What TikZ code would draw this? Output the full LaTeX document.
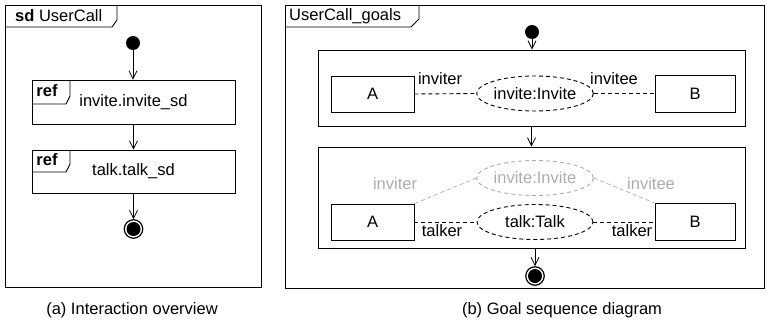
\documentclass[tikz,border=0pt]{standalone}
\usepackage{fontspec}
\setmainfont{Liberation Sans}
\usetikzlibrary{shapes.geometric,arrows.meta}
\begin{document}
\begin{tikzpicture}[x=1pt,y=-1pt,
  every node/.style={font=\fontsize{16.5}{18}\selectfont, inner sep=0pt},
  frame/.style={draw, line width=0.9pt},
  box/.style={draw, line width=0.9pt, rectangle, inner sep=0pt},
  arr/.style={line width=0.8pt, -{Straight Barb[length=8pt,width=8pt]}},
  dsh/.style={line width=0.9pt, dash pattern=on 4pt off 3pt},
  ell/.style={draw, ellipse, dsh, minimum width=116pt, minimum height=35pt, inner sep=0pt},
  grey/.style={color=gray!65},
  startdot/.style={circle, fill, minimum size=14pt, inner sep=0pt},
  endring/.style={circle, draw, line width=1.2pt, minimum size=18.5pt, inner sep=0pt},
  enddot/.style={circle, fill, minimum size=14pt, inner sep=0pt}
]
\useasboundingbox (0,0) rectangle (767,322);

% ---------------- (a) Interaction overview ----------------
\draw[frame] (5,5) rectangle (261,287);
\draw[frame] (5,27) -- (112,27) -- (117,20) -- (117,5);
\node[anchor=west] (tabA) at (15,16) {\textbf{sd} UserCall};

\node[startdot] (i1) at (133,43) {};
\node[box, minimum width=203pt, minimum height=44pt] (r1) at (133.5,102) {invite.invite\_sd};
\draw[frame] (32,104) -- (66,104) -- (70,96) -- (70,80);
\node (ref1) at (47,91) {\textbf{ref}};

\node[box, minimum width=203pt, minimum height=43pt] (r2) at (133.5,171.5) {talk.talk\_sd};
\draw[frame] (32,172) -- (66,172) -- (70,164) -- (70,150);
\node (ref2) at (47,160) {\textbf{ref}};

\node[endring] (f1) at (133.5,229) {};
\node[enddot] (f1d) at (f1.center) {};

\draw[arr] (i1) -- (i1 |- r1.north);
\draw[arr] (r1.south) -- (r2.north);
\draw[arr] (r2.south) -- (f1.north);

\node (capA) at (132,310) {(a) Interaction overview};

% ---------------- (b) Goal sequence diagram ----------------
\draw[frame] (285,5) rectangle (764,288);
\draw[frame] (285,27) -- (411,27) -- (419,19) -- (419,5);
\node[anchor=west] (tabB) at (289,16) {UserCall\_goals};

\node[startdot] (i2) at (532,32) {};
\node[box, minimum width=427pt, minimum height=76pt] (ob1) at (531.5,88) {};
\node[box, minimum width=427pt, minimum height=101pt] (ob2) at (531.5,197.5) {};

% first goal
\node[box, minimum width=83pt, minimum height=36pt] (A1) at (372.5,94) {A};
\node[box, minimum width=80pt, minimum height=37pt] (B1) at (695,93.5) {B};
\node[ell] (inv) at (535,93.5) {invite:Invite};
\draw[dsh] (A1.east) -- (inv.west);
\draw[dsh] (inv.east) -- (B1.west);
\node (lInviter) at (440,79) {inviter};
\node (lInvitee) at (614,79) {invitee};

% second goal
\node[ell, grey] (ginv) at (535,178) {invite:Invite};
\node[box, minimum width=83pt, minimum height=36pt] (A2) at (372.5,222) {A};
\node[box, minimum width=80pt, minimum height=37pt] (B2) at (695,222) {B};
\node[ell] (talk) at (535,222) {talk:Talk};
\draw[dsh, grey, line width=0.7pt] (A2.north east) -- (ginv.west);
\draw[dsh, grey, line width=0.7pt] (ginv.east) -- (B2.north west);
\draw[dsh] (A2.east) -- (talk.west);
\draw[dsh] (talk.east) -- (B2.west);
\node[grey] (gInviter) at (395,184) {inviter};
\node[grey] (gInvitee) at (651,184) {invitee};
\node (lTalker1) at (442,231) {talker};
\node (lTalker2) at (632,231) {talker};

\node[endring] (f2) at (535,276) {};
\node[enddot] (f2d) at (f2.center) {};

\draw[arr] (i2) -- (i2 |- ob1.north);
\draw[arr] (ob1.south) -- (ob2.north);
\draw[arr] (ob2.south -| f2) -- (f2.north);

\node (capB) at (562,310) {(b) Goal sequence diagram};
\end{tikzpicture}
\end{document}
